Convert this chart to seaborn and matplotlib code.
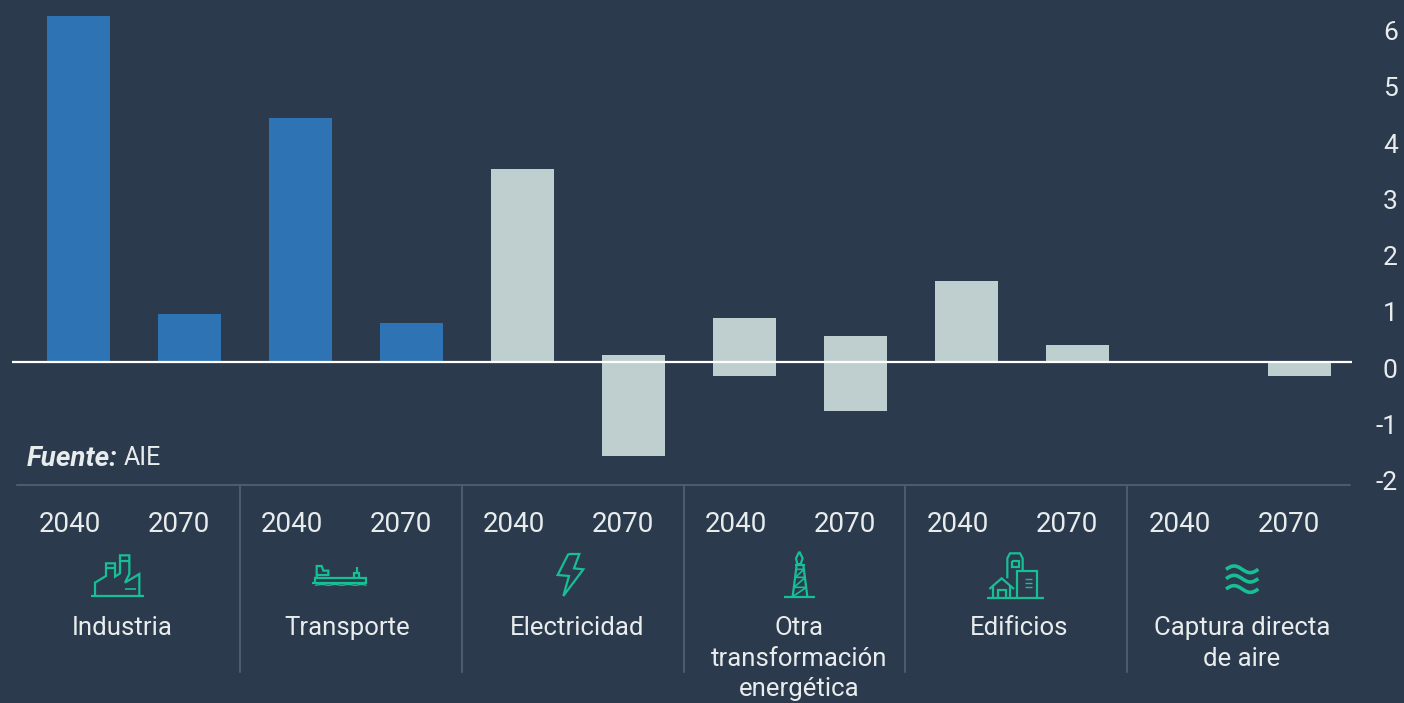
import numpy as np
import pandas as pd
import seaborn as sns
import matplotlib
matplotlib.use("Agg")
import matplotlib.pyplot as plt
from matplotlib.transforms import ScaledTranslation

# ---- data ----
sectors = ["Industria", "Transporte", "Electricidad", "Otra\ntransformación\nenergética", "Edificios", "Captura directa\nde aire"]
years = ["2040", "2070"]
positive = [6.15, 0.85, 4.34, 0.70, 3.43, 0.12, 0.78, 0.46, 1.44, 0.30, 0.0, 0.0]
negative = [0.0, 0.0, 0.0, 0.0, 0.0, -1.67, -0.25, -0.87, 0.0, 0.0, 0.0, -0.25]
groups = ["a", "a", "a", "a", "b", "b", "b", "b", "b", "b", "b", "b"]
yticks = [-2, -1, 0, 1, 2, 3, 4, 5, 6]
source_bold = "Fuente:"
source_rest = "AIE"

BG = "#2b3a4d"
BLUE = "#2e74b5"
GREY = "#bfcfcf"
GREEN = "#17bf95"
TEXT = "#e8ecec"
RULE = "#4d5c6d"

W, H = 1404, 703
sns.set_theme(style="white")
plt.rcParams["font.family"] = ["Roboto", "DejaVu Sans"]
plt.rcParams["axes.unicode_minus"] = False

labels = [f"{i}" for i in range(len(positive))]
df = pd.DataFrame({"bar": labels, "pos": positive, "neg": negative, "group": groups})
palette = {"a": BLUE, "b": GREY}

fig = plt.figure(figsize=(W / 100, H / 100), dpi=100, facecolor=BG)
AX_RIGHT = 1352
ax = fig.add_axes([0, 0, AX_RIGHT / W, 1], facecolor=BG)
for col in ["pos", "neg"]:
    sns.barplot(data=df, x="bar", y=col, hue="group", palette=palette, dodge=False,
                width=0.57, legend=False, saturation=1, ax=ax, linewidth=0)

X0, DX, Y0, DY = 78.5, 111.0, 362.0, 56.2
ax.set_xlim(-X0 / DX, (AX_RIGHT - X0) / DX)
ax.set_ylim(-(H - Y0) / DY, Y0 / DY)
ax.set_xticks([])
ax.set_xlabel("")
ax.set_ylabel("")
ax.set_yticks(yticks)
ax.yaxis.tick_right()
ax.tick_params(axis="y", length=0, pad=33, labelsize=19, labelcolor=TEXT)
off = ScaledTranslation(0, -6 / 100, fig.dpi_scale_trans)
for t in ax.get_yticklabels():
    t.set_ha("right")
    t.set_transform(t.get_transform() + off)
for s in ax.spines.values():
    s.set_visible(False)
ax.hlines(0, (12 - X0) / DX, (AX_RIGHT - X0) / DX, color="white", lw=1.6, zorder=5)

# overlay in pixel coordinates for the footer furniture
ov = fig.add_axes([0, 0, 1, 1], facecolor="none")
ov.set_xlim(0, W)
ov.set_ylim(H, 0)
ov.axis("off")

ov.plot([17, 1350], [485, 485], color=RULE, lw=1.5)
for x in [240, 461.5, 683.5, 905, 1127]:
    ov.plot([x, x], [485, 672], color=RULE, lw=1.5)

ov.text(27, 458, source_bold, color=TEXT, fontsize=20, fontweight="bold", style="italic", va="center", ha="left")
ov.text(124, 458, source_rest, color=TEXT, fontsize=18, va="center", ha="left")

label_centres = [122, 347.5, 577.5, 799.5, 1019, 1242]
for i, sec in enumerate(sectors):
    ov.text(70 + 222 * i, 524, years[0], color=TEXT, fontsize=20, ha="center", va="center")
    ov.text(179 + 222 * i, 524, years[1], color=TEXT, fontsize=20, ha="center", va="center")
    ov.text(label_centres[i], 616, sec, color=TEXT, fontsize=18.5, ha="center", va="top", linespacing=1.35)


def icon(points, ox, oy, lw=1.6, closed=False):
    pts = np.array(points, dtype=float)
    if closed:
        pts = np.vstack([pts, pts[:1]])
    ov.plot(ox + pts[:, 0] / 3, oy + pts[:, 1] / 3, color=GREEN, lw=lw, solid_joinstyle="miter", solid_capstyle="butt")


# factory
o = (0, 430)
icon([(272, 498), (432, 498)], *o)
icon([(285, 498), (285, 458), (318, 438), (318, 400), (345, 400), (345, 440), (360, 430), (360, 376), (388, 376),
      (388, 432), (375, 458), (418, 432), (418, 498)], *o)
icon([(318, 415), (345, 415)], *o)
icon([(360, 392), (388, 392)], *o)
icon([(376, 478), (408, 478)], *o, lw=1.2)
# ship
icon([(935, 460), (1102, 460)], *o)
icon([(945, 460), (945, 443), (1098, 443), (1098, 460)], *o)
icon([(950, 443), (950, 408), (965, 408), (970, 422), (985, 422), (985, 435), (950, 435)], *o)
icon([(1062, 443), (1062, 428), (1078, 428), (1078, 443)], *o)
icon([(1070, 428), (1070, 412)], *o)
icon([(945, 466), (965, 463), (985, 466), (1005, 463), (1025, 466), (1045, 463), (1065, 466), (1085, 463), (1100, 466)], *o, lw=1)
# bolt
o = (470, 490)
icon([(295, 192), (328, 192), (312, 235), (340, 238), (280, 318), (297, 258), (263, 255)], *o, closed=True)
# tower
icon([(942, 320), (1034, 320)], *o)
icon([(968, 320), (980, 225)], *o)
icon([(1012, 320), (1000, 225)], *o)
icon([(975, 225), (1005, 225)], *o)
icon([(978, 238), (1002, 238), (976, 262), (1006, 262), (972, 292), (1009, 292), (968, 320)], *o, lw=1.2)
icon([(988, 185), (998, 205), (992, 222), (982, 222), (978, 205)], *o, closed=True)
# buildings
o = (910, 490)
icon([(230, 323), (402, 323)], *o)
icon([(292, 265), (292, 205), (300, 190), (330, 190), (338, 205), (338, 243)], *o)
icon([(305, 212), (328, 212), (328, 230), (305, 230)], *o, closed=True)
icon([(322, 323), (322, 243), (382, 243), (382, 323)], *o)
icon([(238, 297), (275, 265), (312, 297)], *o)
icon([(250, 288), (250, 323)], *o)
icon([(300, 288), (300, 323)], *o)
icon([(265, 323), (265, 300), (288, 300), (288, 323)], *o)
for yy in [266, 278, 290]:
    icon([(345, yy), (365, yy)], *o, lw=1)
# air waves
t = np.linspace(0, 1, 40)
for yy in [238, 266, 297]:
    icon(np.c_[948 + 97 * t, yy - 10 * np.sin(2 * np.pi * t)], *o, lw=2.6)

fig.savefig("out.png", dpi=100, facecolor=BG)
